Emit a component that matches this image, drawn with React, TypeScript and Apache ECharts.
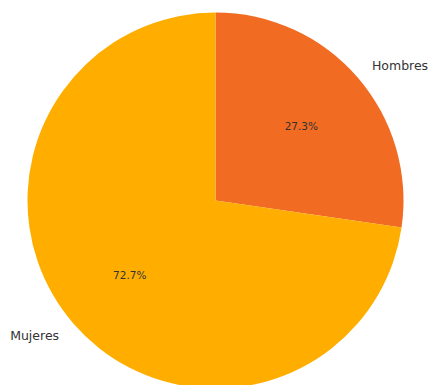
import React, { useEffect, useRef } from "react";
import * as echarts from "echarts";

const categories = ["Hombres", "Mujeres"];
const values = [27.3, 72.7];
const colors = ["#F26B22", "#FFAE00"];

export default function App() {
  const ref = useRef<HTMLDivElement>(null);
  useEffect(() => {
    if (!ref.current) return;
    const chart = echarts.init(ref.current, undefined, { renderer: "svg" });
    const R = 188;
    const center = [215.5, 200.5];
    const data = categories.map((name, i) => ({ name, value: values[i], itemStyle: { color: colors[i] } }));
    chart.setOption({
      animation: false,
      textStyle: { fontFamily: "DejaVu Sans" },
      series: [
        {
          type: "pie",
          center,
          radius: [0, R],
          startAngle: 90,
          clockwise: true,
          avoidLabelOverlap: false,
          silent: true,
          data,
          label: {
            show: true,
            position: "outside",
            formatter: "{b}",
            fontSize: 12.5,
            color: "#333",
            fontFamily: "DejaVu Sans",
            distanceToLabelLine: 0,
          },
          labelLine: { show: false, length: R * 0.1, length2: 0 },
        },
        {
          type: "pie",
          center,
          radius: [R * 0.175, R],
          startAngle: 90,
          clockwise: true,
          silent: true,
          data: categories.map((name, i) => ({ name, value: values[i] })),
          itemStyle: { color: "rgba(0,0,0,0)" },
          label: {
            show: true,
            position: "inside",
            formatter: (p: any) => p.value.toFixed(1) + "%",
            fontSize: 10.5,
            color: "#333",
            fontFamily: "DejaVu Sans",
          },
          labelLine: { show: false },
        },
      ],
    });
    return () => chart.dispose();
  }, []);
  return <div ref={ref} style={{ position: "absolute", left: 0, top: 0, width: 429, height: 385 }} />;
}
